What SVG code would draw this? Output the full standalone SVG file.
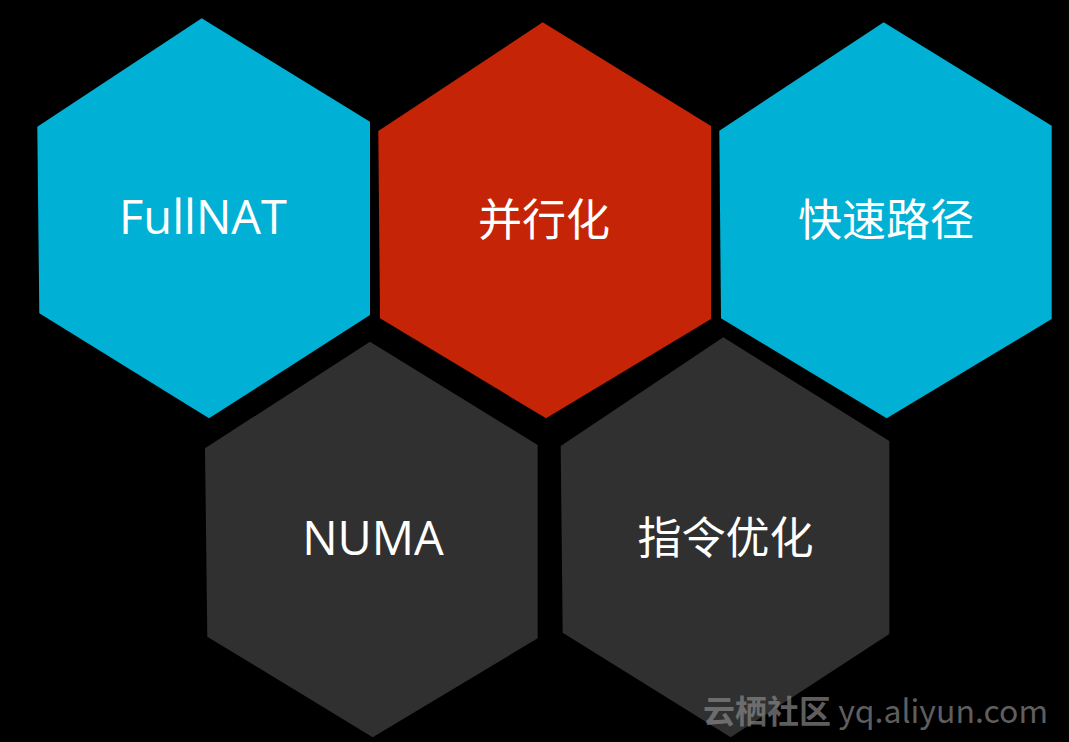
<svg xmlns="http://www.w3.org/2000/svg" width="1069" height="742" viewBox="0 0 1069 742">
<style>
.cyan{fill:#00B1D5}
.red{fill:#C62406}
.dark{fill:#303030}
.lbl{fill:#fff;font-family:"Open Sans","Noto Sans CJK SC",sans-serif;font-size:44px;text-anchor:middle}
.lat{font-size:47px}
.wm{fill:#8a8a8a;fill-opacity:0.7;font-family:"Noto Sans CJK SC",sans-serif;font-size:32px}
</style>
<rect x="0" y="0" width="1069" height="742" fill="#000"/>
<g id="node-fullnat">
<polygon class="cyan" points="201.7,18.3 370,121.7 370,315 209,418.3 39.3,313.3 37.3,126.7"/>
<text class="lbl lat" x="203" y="234">FullNAT</text>
</g>
<g id="node-parallel">
<polygon class="red" points="542.7,22.3 711,126 711,319 546,418.3 380,318.3 378.3,131"/>
<text class="lbl" x="544" y="236">并行化</text>
</g>
<g id="node-fastpath">
<polygon class="cyan" points="883.7,22.3 1051.7,125.7 1051.7,319 886.7,418.3 721,318.3 719.3,130.7"/>
<text class="lbl" x="886" y="236">快速路径</text>
</g>
<g id="node-numa">
<polygon class="dark" points="370,341.7 537.7,445 537.7,638.3 372.7,737.3 207.3,636.7 205,448.3"/>
<text class="lbl lat" x="373" y="555">NUMA</text>
</g>
<g id="node-instr">
<polygon class="dark" points="723.3,337.3 889.3,441 889.3,634 730.7,737.3 562.7,632.7 560.7,446"/>
<text class="lbl" x="725.5" y="554">指令优化</text>
</g>
<g id="connectors"></g>
<text class="wm" x="703" y="723"><tspan font-weight="bold">云栖社区</tspan> yq.aliyun.com</text>
</svg>
